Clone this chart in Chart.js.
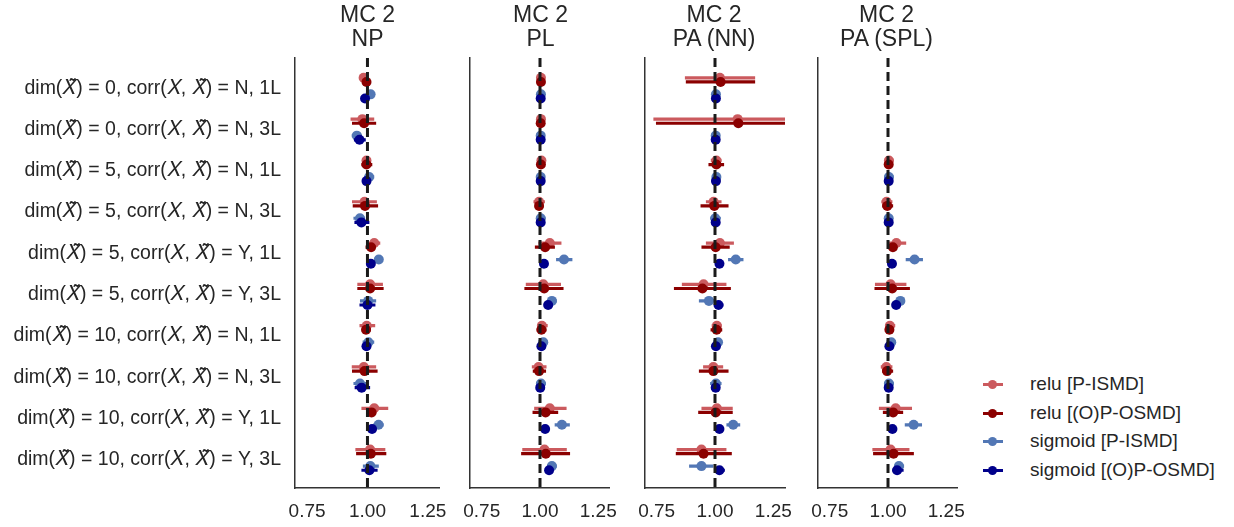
<!DOCTYPE html>
<html>
<head>
<meta charset="utf-8">
<script src="https://cdn.jsdelivr.net/npm/chart.js@4.4.0/dist/chart.umd.min.js"></script>
<style>
  html, body { margin: 0; padding: 0; background: #fff; }
  #wrap { position: relative; width: 1234px; height: 527px; overflow: hidden;
          font-family: "Liberation Sans", Arial, "DejaVu Sans", sans-serif; color: #262626; }
  #wrap canvas { position: absolute; top: 0; }
  .ttl { position: absolute; top: 2px; width: 200px; text-align: center;
         font-size: 23px; line-height: 24px; }
  .leg { position: absolute; left: 983px; font-size: 19px; line-height: 22px; white-space: nowrap; }
  .leg .mk { position: absolute; left: 0; top: 10px; width: 20px; height: 3px; }
  .leg .mk i { position: absolute; left: 5px; top: -3px; width: 9px; height: 9px; border-radius: 50%; background: inherit; }
  .leg span.t { position: absolute; left: 47px; top: 0; }
</style>
</head>
<body>
<div id="wrap">
  <canvas id="c0" width="460" height="527" style="left:0;width:460px;height:527px"></canvas>
  <canvas id="c1" width="180" height="527" style="left:450px;width:180px;height:527px"></canvas>
  <canvas id="c2" width="180" height="527" style="left:625px;width:180px;height:527px"></canvas>
  <canvas id="c3" width="180" height="527" style="left:798px;width:180px;height:527px"></canvas>
</div>
<script>
/* ---------- data ---------- */
const rowLabels = [
  'dim(𝑋̃) = 0, corr(𝑋, 𝑋̃) = N, 1L',
  'dim(𝑋̃) = 0, corr(𝑋, 𝑋̃) = N, 3L',
  'dim(𝑋̃) = 5, corr(𝑋, 𝑋̃) = N, 1L',
  'dim(𝑋̃) = 5, corr(𝑋, 𝑋̃) = N, 3L',
  'dim(𝑋̃) = 5, corr(𝑋, 𝑋̃) = Y, 1L',
  'dim(𝑋̃) = 5, corr(𝑋, 𝑋̃) = Y, 3L',
  'dim(𝑋̃) = 10, corr(𝑋, 𝑋̃) = N, 1L',
  'dim(𝑋̃) = 10, corr(𝑋, 𝑋̃) = N, 3L',
  'dim(𝑋̃) = 10, corr(𝑋, 𝑋̃) = Y, 1L',
  'dim(𝑋̃) = 10, corr(𝑋, 𝑋̃) = Y, 3L'
];
const panelTitles = [['MC 2', 'NP'], ['MC 2', 'PL'], ['MC 2', 'PA (NN)'], ['MC 2', 'PA (SPL)']];
const seriesNames = ['relu [P-ISMD]', 'relu [(O)P-OSMD]', 'sigmoid [P-ISMD]', 'sigmoid [(O)P-OSMD]'];
const xTicks = [0.75, 1.00, 1.25];
const refValue = 1.0;

// each entry: [mean, ci low, ci high]
const npReluIsmd = [[0.984,0.975,0.993],[0.979,0.930,1.028],[0.996,0.980,1.014],[0.988,0.936,1.039],[1.028,1.008,1.053],[1.011,0.958,1.064],[0.997,0.967,1.032],[0.985,0.935,1.036],[1.028,0.975,1.086],[1.011,0.950,1.074]];
const npReluOsmd = [[0.996,0.985,1.010],[0.986,0.936,1.036],[0.996,0.975,1.020],[0.990,0.939,1.044],[1.015,0.992,1.032],[1.011,0.958,1.067],[0.994,0.978,1.014],[0.988,0.936,1.042],[1.017,0.999,1.036],[1.014,0.953,1.078]];
const npSigIsmd  = [[1.013,1.005,1.020],[0.956,0.935,0.976],[1.007,0.990,1.028],[0.969,0.942,0.990],[1.047,1.028,1.064],[1.003,0.969,1.036],[1.004,0.980,1.028],[0.969,0.942,0.997],[1.046,1.025,1.067],[1.012,0.981,1.047]];
const npSigOsmd  = [[0.990,0.985,0.995],[0.967,0.944,0.993],[0.996,0.990,1.003],[0.975,0.946,1.008],[1.014,1.001,1.028],[1.000,0.967,1.033],[0.996,0.983,1.011],[0.976,0.947,1.011],[1.019,1.006,1.033],[1.008,0.975,1.042]];

const plReluIsmd = [[1.004,0.999,1.009],[1.004,0.999,1.009],[1.006,0.995,1.017],[0.996,0.972,1.021],[1.042,0.993,1.092],[1.014,0.939,1.090],[1.008,0.989,1.033],[0.994,0.965,1.028],[1.042,0.975,1.114],[1.019,0.924,1.115]];
const plReluOsmd = [[1.004,1.000,1.008],[1.003,0.999,1.007],[1.004,0.996,1.012],[0.996,0.979,1.014],[1.022,0.978,1.064],[1.018,0.933,1.101],[1.006,0.986,1.028],[0.996,0.969,1.026],[1.024,0.968,1.078],[1.025,0.919,1.129]];
const plSigIsmd  = [[1.004,0.999,1.009],[1.003,0.999,1.007],[1.003,0.995,1.011],[1.003,0.986,1.024],[1.103,1.069,1.139],[1.051,1.032,1.072],[1.014,0.994,1.033],[1.004,0.983,1.025],[1.094,1.063,1.128],[1.051,1.031,1.072]];
const plSigOsmd  = [[1.003,0.999,1.007],[1.003,0.999,1.007],[1.003,0.998,1.008],[1.003,0.997,1.009],[1.017,1.010,1.024],[1.035,1.017,1.053],[1.006,0.995,1.017],[1.001,0.995,1.007],[1.022,1.015,1.029],[1.039,1.022,1.053]];

const nnReluIsmd = [[1.021,0.871,1.172],[1.097,0.736,1.458],[1.006,0.982,1.028],[0.994,0.961,1.028],[1.021,0.961,1.081],[0.951,0.858,1.049],[1.008,0.986,1.028],[0.993,0.949,1.035],[1.008,0.942,1.076],[0.942,0.836,1.049]];
const nnReluOsmd = [[1.024,0.875,1.172],[1.100,0.747,1.453],[1.006,0.972,1.039],[0.997,0.938,1.058],[1.003,0.942,1.063],[0.946,0.824,1.068],[1.007,0.981,1.031],[0.993,0.931,1.058],[1.003,0.928,1.076],[0.951,0.832,1.072]];
const nnSigIsmd  = [[1.004,0.999,1.009],[1.003,0.999,1.007],[1.006,0.998,1.014],[1.001,0.980,1.025],[1.089,1.056,1.122],[0.974,0.931,1.003],[1.013,1.004,1.022],[1.004,0.979,1.028],[1.078,1.049,1.108],[0.942,0.889,0.993]];
const nnSigOsmd  = [[1.004,1.000,1.008],[1.003,0.999,1.007],[1.004,0.999,1.009],[1.003,0.997,1.009],[1.019,1.012,1.026],[1.015,1.000,1.036],[1.004,0.999,1.009],[1.003,0.997,1.009],[1.019,1.012,1.026],[1.019,1.003,1.042]];

const splReluIsmd = [null,null,[1.004,0.990,1.024],[0.994,0.972,1.019],[1.036,0.996,1.078],[1.011,0.944,1.079],[1.008,0.989,1.031],[0.993,0.969,1.019],[1.033,0.961,1.103],[1.011,0.933,1.092]];
const splReluOsmd = [null,null,[1.003,0.994,1.012],[0.997,0.975,1.022],[1.021,1.003,1.039],[1.018,0.942,1.094],[1.006,0.998,1.014],[0.996,0.975,1.022],[1.022,0.978,1.065],[1.024,0.936,1.111]];
const splSigIsmd  = [null,null,[1.004,0.986,1.024],[1.003,0.985,1.022],[1.114,1.076,1.150],[1.053,1.033,1.072],[1.014,0.996,1.033],[1.004,0.983,1.025],[1.110,1.072,1.146],[1.047,1.031,1.069]];
const splSigOsmd  = [null,null,[1.003,0.998,1.008],[1.003,0.997,1.009],[1.017,1.010,1.024],[1.035,1.017,1.053],[1.006,1.000,1.012],[1.003,0.997,1.009],[1.019,1.012,1.026],[1.039,1.019,1.067]];

/* ---------- style ---------- */
const colors  = ['#cb5a5e', '#8b0000', '#5277b5', '#00008b'];
const dodge   = [-0.25, -0.15, 0.15, 0.25];   // vertical offset within a row
const yMin = -0.73, yMax = 9.68;
const xMin = 0.70, xMax = 1.30;
const fontFam = '"Liberation Sans", Arial, "DejaVu Sans", sans-serif';
const ink = '#262626';

const panels = [
  { id: 'c0', series: [npReluIsmd, npReluOsmd, npSigIsmd, npSigOsmd],     yw: 295, pr: 20, labels: true },
  { id: 'c1', series: [plReluIsmd, plReluOsmd, plSigIsmd, plSigOsmd],     yw: 18,  pr: 17 },
  { id: 'c2', series: [nnReluIsmd, nnReluOsmd, nnSigIsmd, nnSigOsmd],     yw: 16,  pr: 18 },
  { id: 'c3', series: [splReluIsmd, splReluOsmd, splSigIsmd, splSigOsmd], yw: 16,  pr: 19 }
];

function errorSegments(rows, off) {
  const pts = [];
  rows.forEach((r, i) => {
    if (!r) return;
    pts.push({ x: r[1], y: i + off }, { x: r[2], y: i + off }, { x: null, y: null });
  });
  return pts;
}
function meanPoints(rows, off) {
  return rows.map((r, i) => r ? { x: r[0], y: i + off } : null).filter(Boolean);
}

function buildChart(p) {
  const datasets = [{
    type: 'line',
    data: [{ x: refValue, y: yMin }, { x: refValue, y: yMax }],
    borderColor: '#1a1a1a', borderWidth: 3, borderDash: [9, 5],
    pointRadius: 0, order: 0
  }];
  p.series.forEach((rows, s) => {
    datasets.push({
      type: 'line',
      data: errorSegments(rows, dodge[s]),
      borderColor: colors[s], borderWidth: 3.2, pointRadius: 0,
      spanGaps: false, order: 10 - 2 * s, clip: 0
    });
    datasets.push({
      type: 'scatter',
      data: meanPoints(rows, dodge[s]),
      backgroundColor: colors[s], borderWidth: 0, pointRadius: 5,
      order: 9 - 2 * s
    });
  });

  new Chart(document.getElementById(p.id), {
    type: 'scatter',
    data: { datasets },
    options: {
      responsive: false, animation: false, devicePixelRatio: 1,
      layout: { padding: { top: 58, right: p.pr, bottom: 0, left: 0 } },
      plugins: { legend: { display: false }, tooltip: { enabled: false } },
      scales: {
        x: {
          type: 'linear', min: xMin, max: xMax,
          afterBuildTicks: sc => { sc.ticks = xTicks.map(v => ({ value: v })); },
          afterFit: sc => { sc.height = 39; },
          grid: { display: false, drawTicks: false },
          border: { display: true, color: '#333', width: 1.5 },
          ticks: { color: ink, padding: 12, font: { size: 19, family: fontFam },
                   callback: v => v.toFixed(2) }
        },
        y: {
          type: 'linear', reverse: true, min: yMin, max: yMax,
          afterBuildTicks: sc => { sc.ticks = rowLabels.map((_, i) => ({ value: i })); },
          afterFit: sc => { sc.width = p.yw; },
          grid: { display: false, drawTicks: false },
          border: { display: true, color: '#333', width: 1.5 },
          ticks: { display: !!p.labels, color: ink, padding: 14,
                   font: { size: 19.5, family: fontFam },
                   callback: v => rowLabels[v] }
        }
      }
    }
  });
}
panels.forEach(buildChart);

/* ---------- titles ---------- */
const centers = [367.5, 540.5, 714, 886.5];
const wrap = document.getElementById('wrap');
panelTitles.forEach((t, i) => {
  const d = document.createElement('div');
  d.className = 'ttl';
  d.style.left = (centers[i] - 100) + 'px';
  d.innerHTML = t.join('<br>');
  wrap.appendChild(d);
});

/* ---------- legend ---------- */
const legendY = [373, 401.5, 430, 458.5];
seriesNames.forEach((name, i) => {
  const row = document.createElement('div');
  row.className = 'leg';
  row.style.top = legendY[i] + 'px';
  row.innerHTML = `<span class="mk" style="background:${colors[i]}"><i></i></span><span class="t">${name}</span>`;
  wrap.appendChild(row);
});
</script>
</body>
</html>
